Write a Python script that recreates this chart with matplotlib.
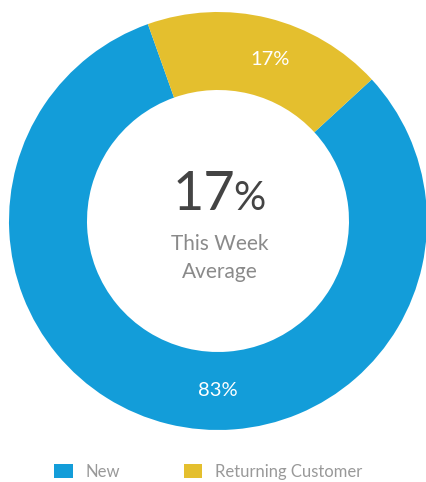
import numpy as np
import matplotlib.pyplot as plt

# slice shares as measured from the ring, and the labels printed on it
segments = ["New", "Returning Customer"]
shares = [81.4, 18.6]
slice_labels = ["83%", "17%"]
colors = ["#139dd9", "#e4bf2e"]

center_value = "17"
center_caption = "This Week\nAverage"

plt.rcParams["font.family"] = ["Lato", "DejaVu Sans"]

fig = plt.figure(figsize=(4.26, 4.82), dpi=100)
ax = fig.add_axes([0, 0, 1, 1])

# pixel-like coordinates, y up
cx, cy, r_out, ring = 218, 261, 209, 78

wedges, _ = ax.pie(
    shares,
    colors=colors,
    startangle=109.6,
    counterclock=True,
    center=(cx, cy),
    radius=r_out,
    wedgeprops=dict(width=ring, linewidth=0),
)

# slice labels on the ring (the big slice's label sits at the bottom)
r_lab = r_out - ring / 2
label_angles = [270, None]
for w, lab, ang in zip(wedges, slice_labels, label_angles):
    if ang is None:
        ang = (w.theta1 + w.theta2) / 2 - 4
    a = np.deg2rad(ang)
    ax.text(cx + r_lab * np.cos(a), cy + r_lab * np.sin(a), lab,
            color="white", fontsize=14.5, ha="center", va="center")

# centre text
ax.text(cx + 17, cy + 27, center_value, fontsize=39, color="#444444",
        ha="right", va="center")
ax.text(cx + 15, cy + 23, "%", fontsize=29, color="#444444",
        ha="left", va="center")
ax.text(cx + 2, cy - 37, center_caption, fontsize=15, color="#8a8a8a",
        ha="center", va="center", linespacing=1.5)

ax.legend(wedges, segments, loc="center left", bbox_to_anchor=(0.092, 0.021),
          ncol=2, frameon=False, fontsize=12, labelcolor="#999999",
          handlelength=1.1, handleheight=0.9, handletextpad=0.8,
          columnspacing=3.8)

ax.set_xlim(0, 426)
ax.set_ylim(0, 482)
ax.set_aspect("equal")
ax.axis("off")

fig.savefig("out.png", dpi=100)
